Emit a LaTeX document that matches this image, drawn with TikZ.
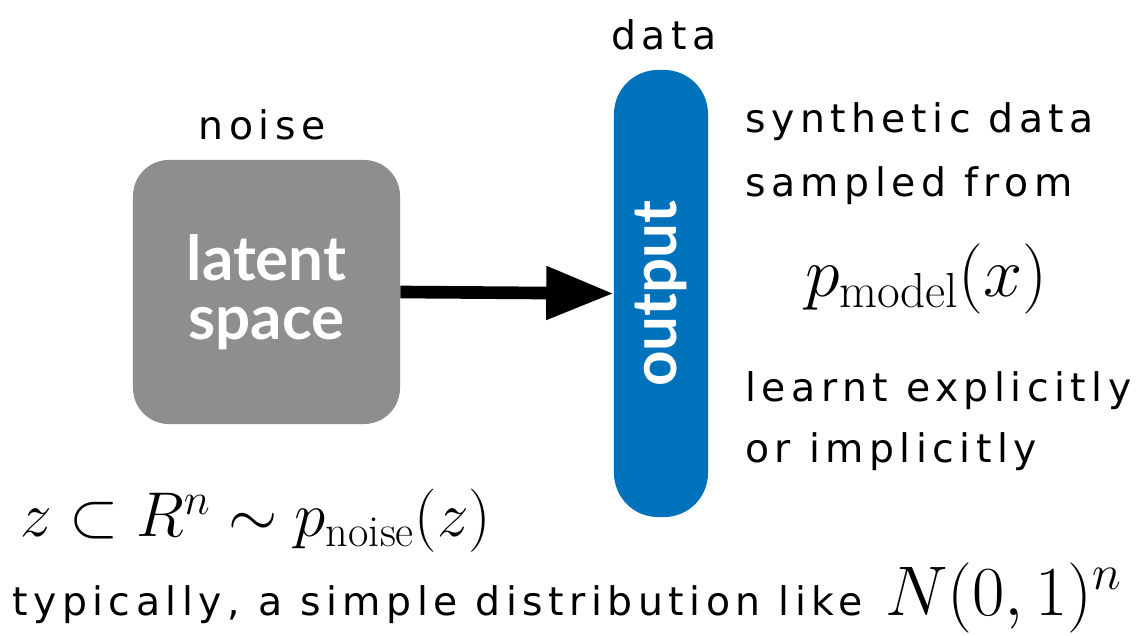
\RequirePackage{fix-cm}
\documentclass[tikz,border=0pt]{standalone}
\usepackage{fontspec}
\usetikzlibrary{arrows.meta}
\newfontfamily\handfont[LetterSpace=14]{DejaVu Sans}
\newfontfamily\boxfont{Lato}
\definecolor{latentgray}{HTML}{8E8E8E}
\definecolor{outblue}{HTML}{0072BB}

\tikzset{
  hand/.style={font=\handfont\fontsize{28}{30}\selectfont, inner sep=0pt},
  bigmath/.style={font=\fontsize{45}{48}\selectfont, inner sep=0pt},
  blocklabel/.style={text=white, font=\boxfont\bfseries\fontsize{44}{42}\selectfont, align=center},
}

\begin{document}
\begin{tikzpicture}[x=0.025cm, y=-0.025cm, >=Stealth]
\useasboundingbox (0,0) rectangle (1140,636);

% latent block and output bar
\node[blocklabel, fill=latentgray, rounded corners=0.9cm,
      minimum width=6.675cm, minimum height=6.6cm] (latent) at (266.5,292) {latent\\space};
\node[fill=outblue, rounded corners=1.1cm,
      minimum width=2.35cm, minimum height=11.175cm] (output) at (661,293.5) {};
\node[blocklabel, rotate=90] (outlabel) at (output.center) {output};

\draw[line width=9pt, -{Triangle[length=48pt,width=36pt]}] (latent.east) -- (output.west);

% labels
\node[hand, anchor=base] (noise) at (262,140) {noise};
\node[hand, anchor=base] (data) at (664,50) {data};

\node[hand, anchor=base west] (synth) at (745,133) {synthetic data};
\node[hand, anchor=base west] (sampled) at (745,197) {sampled from};
\node[bigmath, font=\fontsize{50}{52}\selectfont, anchor=base west] (pmodel) at (805,297) {$p_{\mathrm{model}}(x)$};
\node[hand, anchor=base west] (learnt) at (745,402) {learnt explicitly};
\node[hand, anchor=base west] (implicit) at (745,463) {or implicitly};

\node[bigmath, anchor=base west] (zdist) at (20,537) {$z\subset R^n \sim p_{\mathrm{noise}}(z)$};
\node[hand, anchor=base west] (typical) at (12,615) {typically, a simple distribution like};
\node[bigmath, font=\fontsize{50}{52}\selectfont, anchor=base west] (normal) at (885,615) {$N(0,1)^n$};

\end{tikzpicture}
\end{document}
